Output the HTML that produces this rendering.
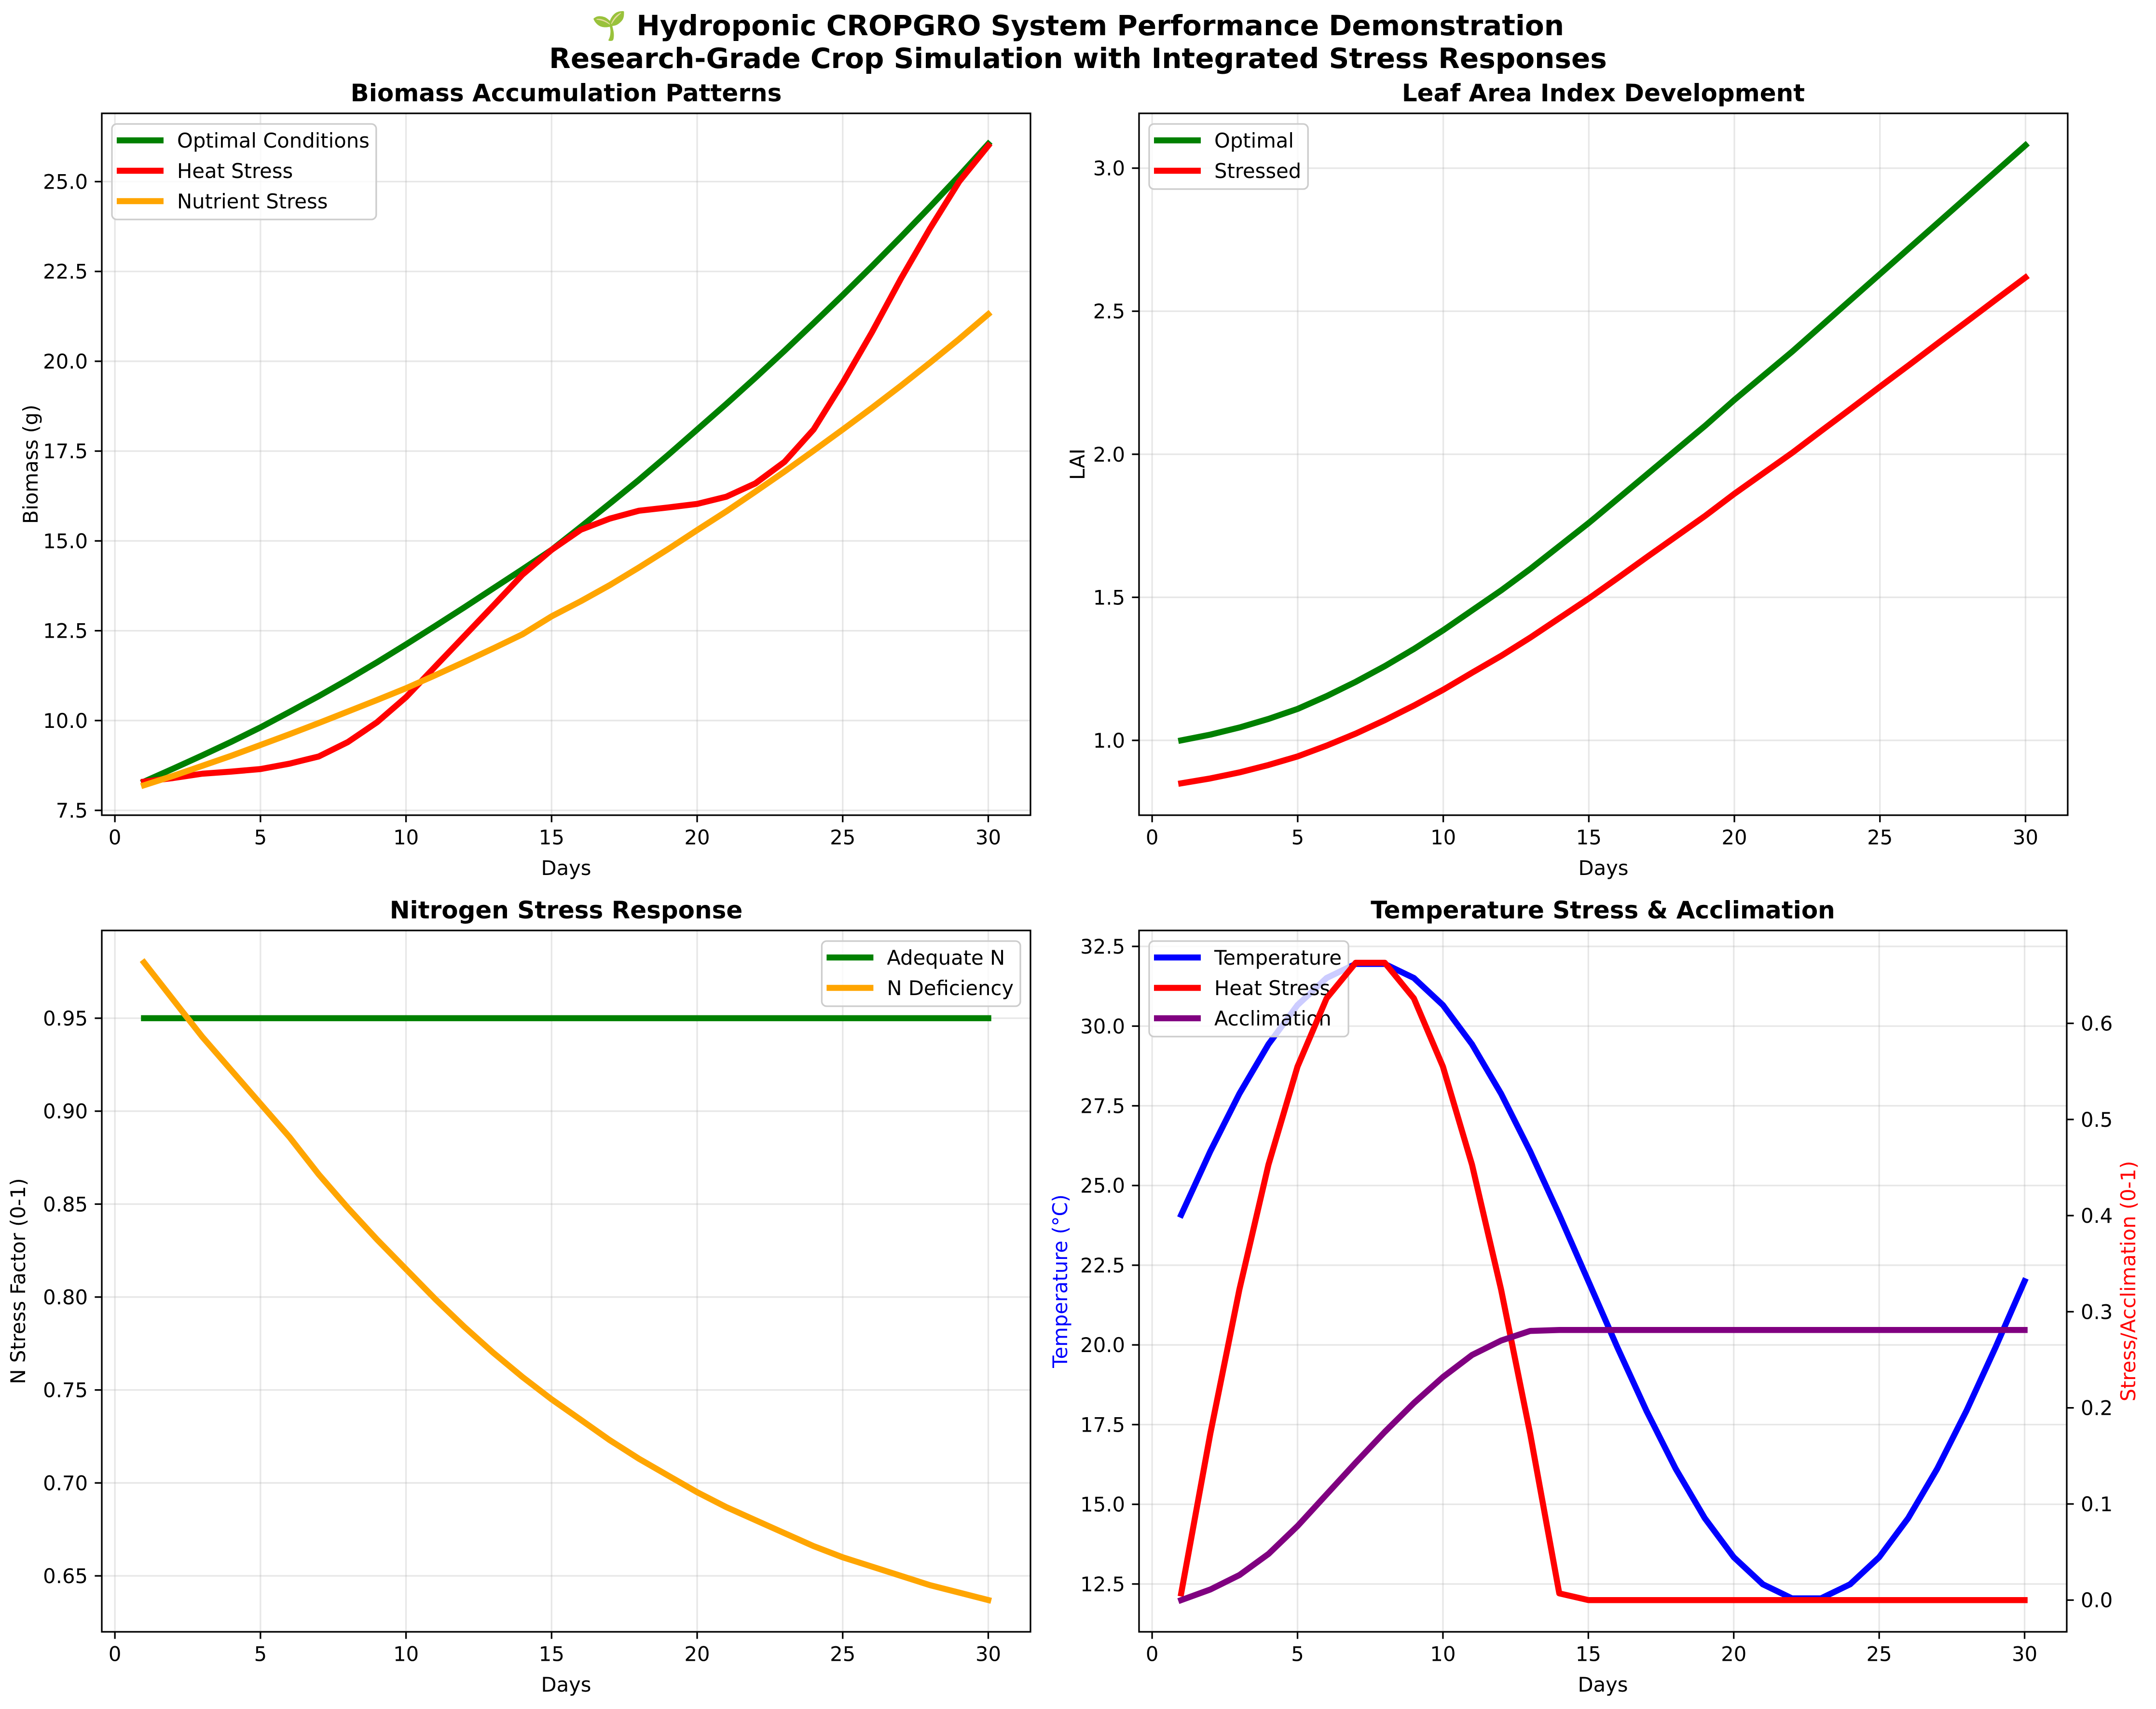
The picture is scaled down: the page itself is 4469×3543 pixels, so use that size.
<!DOCTYPE html>
<html><head><meta charset="utf-8">
<style>
html,body{margin:0;padding:0;background:#fff;}
svg{display:block;font-family:"DejaVu Sans","Liberation Sans",sans-serif;}
</style></head>
<body>
<svg id="fig" width="4469" height="3543" viewBox="0 0 4469 3543" xmlns="http://www.w3.org/2000/svg">
<rect width="4469" height="3543" fill="#fff"/>
<text x="2234.5" y="73" font-size="58" font-weight="bold" text-anchor="middle">🌱 Hydroponic CROPGRO System Performance Demonstration</text>
<text x="2234.5" y="141" font-size="58" font-weight="bold" text-anchor="middle">Research-Grade Crop Simulation with Integrated Stress Responses</text>
</svg>
<script>
// ---- data ----
const days = [1,2,3,4,5,6,7,8,9,10,11,12,13,14,15,16,17,18,19,20,21,22,23,24,25,26,27,28,29,30];
const biomassOptimal = [8.30,8.66,9.03,9.41,9.81,10.24,10.68,11.14,11.62,12.12,12.63,13.15,13.68,14.21,14.75,15.39,16.04,16.70,17.39,18.10,18.81,19.54,20.29,21.06,21.84,22.64,23.46,24.30,25.16,26.05];
const biomassHeat = [8.30,8.40,8.52,8.58,8.65,8.80,9.00,9.40,9.95,10.65,11.50,12.35,13.20,14.06,14.75,15.31,15.62,15.84,15.93,16.03,16.23,16.60,17.20,18.10,19.40,20.80,22.30,23.70,25.00,26.00];
const biomassNutrient = [8.20,8.46,8.74,9.02,9.32,9.62,9.93,10.25,10.57,10.90,11.26,11.63,12.01,12.40,12.90,13.32,13.77,14.26,14.77,15.30,15.82,16.37,16.93,17.51,18.10,18.70,19.32,19.96,20.62,21.31];
const laiOptimal = [1.00,1.02,1.045,1.075,1.11,1.155,1.205,1.26,1.32,1.385,1.455,1.525,1.60,1.68,1.76,1.845,1.93,2.015,2.10,2.19,2.275,2.36,2.45,2.54,2.63,2.72,2.81,2.90,2.99,3.08];
const laiStressed = [0.85,0.867,0.888,0.914,0.944,0.982,1.024,1.071,1.122,1.177,1.237,1.296,1.36,1.428,1.496,1.568,1.641,1.713,1.785,1.862,1.934,2.006,2.083,2.159,2.236,2.312,2.389,2.465,2.542,2.618];
const nAdequate = [0.95,0.95,0.95,0.95,0.95,0.95,0.95,0.95,0.95,0.95,0.95,0.95,0.95,0.95,0.95,0.95,0.95,0.95,0.95,0.95,0.95,0.95,0.95,0.95,0.95,0.95,0.95,0.95,0.95,0.95];
const nDeficiency = [0.98,0.96,0.94,0.922,0.904,0.886,0.866,0.848,0.831,0.815,0.799,0.784,0.770,0.757,0.745,0.734,0.723,0.713,0.704,0.695,0.687,0.680,0.673,0.666,0.660,0.655,0.650,0.645,0.641,0.637];
const temperature = [24.08,26.07,27.88,29.43,30.66,31.51,31.95,31.95,31.51,30.66,29.43,27.88,26.07,24.08,22.00,19.92,17.93,16.12,14.57,13.34,12.49,12.05,12.05,12.49,13.34,14.57,16.12,17.93,19.92,22.00];
const heatStress = [0.007,0.173,0.323,0.453,0.555,0.626,0.663,0.663,0.626,0.555,0.453,0.323,0.173,0.007,0,0,0,0,0,0,0,0,0,0,0,0,0,0,0,0];
const acclimation = [0.000,0.011,0.026,0.048,0.077,0.110,0.143,0.175,0.205,0.232,0.255,0.270,0.280,0.281,0.281,0.281,0.281,0.281,0.281,0.281,0.281,0.281,0.281,0.281,0.281,0.281,0.281,0.281,0.281,0.281];
const xTicks = [0,5,10,15,20,25,30];
const biomassTicks = [7.5,10.0,12.5,15.0,17.5,20.0,22.5,25.0];
const laiTicks = [1.0,1.5,2.0,2.5,3.0];
const nTicks = [0.65,0.70,0.75,0.80,0.85,0.90,0.95];
const tempTicks = [12.5,15.0,17.5,20.0,22.5,25.0,27.5,30.0,32.5];
const stressTicks = [0.0,0.1,0.2,0.3,0.4,0.5,0.6];

const NS = "http://www.w3.org/2000/svg";
const svg = document.getElementById('fig');
function el(tag, attrs, parent){
  const e = document.createElementNS(NS, tag);
  for (const k in attrs) e.setAttribute(k, attrs[k]);
  (parent||svg).appendChild(e);
  return e;
}
function lin(d0,d1,r0,r1){ return v => r0 + (v-d0)/(d1-d0)*(r1-r0); }
const XMIN=-0.45, XMAX=31.45;
const FS=41.7;

function makeAxes(name, L, R, T, B, ylim, yTicks, yDec, title, ylabel, ylabelX, ylabelColor){
  const g = el('g',{});
  
  
  const x = lin(XMIN, XMAX, L, R);
  const y = lin(ylim[0], ylim[1], B, T);
  xTicks.forEach(t=>{
    const gl = el('line',{x1:x(t),x2:x(t),y1:T,y2:B,stroke:'#b0b0b0','stroke-opacity':0.3,'stroke-width':3.3},g);
    
    
  });
  yTicks.forEach(t=>{
    const gl = el('line',{x1:L,x2:R,y1:y(t),y2:y(t),stroke:'#b0b0b0','stroke-opacity':0.3,'stroke-width':3.3},g);
    
    
  });
  xTicks.forEach(t=>{
    el('line',{x1:x(t),x2:x(t),y1:B,y2:B+14.6,stroke:'#000','stroke-width':3.3},g);
    const tl = el('text',{x:x(t),y:B+29+FS*0.76,'font-size':FS,'text-anchor':'middle'},g);
    tl.textContent = String(t);
    
    
  });
  yTicks.forEach(t=>{
    el('line',{x1:L-14.6,x2:L,y1:y(t),y2:y(t),stroke:'#000','stroke-width':3.3},g);
    const tl = el('text',{x:L-29,y:y(t)+FS*0.36,'font-size':FS,'text-anchor':'end'},g);
    tl.textContent = t.toFixed(yDec);
    
    
  });
  const tt = el('text',{x:(L+R)/2,y:T-25,'font-size':50,'font-weight':'bold','text-anchor':'middle'},g);
  tt.textContent = title;
  
  
  const xl = el('text',{x:(L+R)/2,y:B+124,'font-size':FS,'text-anchor':'middle'},g);
  xl.textContent = 'Days';
  
  
  const yl = el('text',{x:0,y:0,'font-size':FS,'text-anchor':'middle',fill:ylabelColor||'#000',transform:`translate(${ylabelX},${(T+B)/2}) rotate(-90)`},g);
  yl.textContent = ylabel;
  
  
  return {g,x,y,L,R,T,B};
}
function drawLine(ax, ys, color, name, yfn){
  const yf = yfn || ax.y;
  const pts = days.map((d,i)=>ax.x(d).toFixed(1)+','+yf(ys[i]).toFixed(1)).join(' ');
  const p = el('polyline',{points:pts,fill:'none',stroke:color,'stroke-width':12.5,'stroke-linejoin':'round','stroke-linecap':'square'});
  
  
  return p;
}
function frame(ax){
  const f = el('rect',{x:ax.L,y:ax.T,width:ax.R-ax.L,height:ax.B-ax.T,fill:'none',stroke:'#000','stroke-width':3.3});
  
  
}
function legend(ax, entries, where, name){
  const g = el('g',{});
  
  
  const box = el('rect',{rx:10,ry:10,fill:'#fff','fill-opacity':0.8,stroke:'#cccccc','stroke-width':3.3},g);
  let maxW = 0;
  const items = [];
  entries.forEach((e,i)=>{
    const t = el('text',{'font-size':FS},g);
    t.textContent = e[0];
    
    
    maxW = Math.max(maxW, t.getComputedTextLength());
    items.push(t);
  });
  const w = 135 + maxW + 14;
  const h = 34 + 63*(entries.length-1) + 38;
  const bx = where==='right' ? ax.R - 21 - w : ax.L + 21;
  const by = ax.T + 22;
  box.setAttribute('x',bx); box.setAttribute('y',by);
  box.setAttribute('width',w); box.setAttribute('height',h);
  entries.forEach((e,i)=>{
    const cy = by + 34 + 63*i;
    const hl = el('line',{x1:bx+10,x2:bx+107,y1:cy,y2:cy,stroke:e[1],'stroke-width':12.5},g);
    
    
    items[i].setAttribute('x', bx+135);
    items[i].setAttribute('y', cy+FS*0.36);
  });
}

const a1 = makeAxes('biomass-panel',211,2136,235,1690,[7.366,26.90],biomassTicks,1,'Biomass Accumulation Patterns','Biomass (g)',78);
drawLine(a1, biomassOptimal, '#008000', 'optimal-biomass-line');
drawLine(a1, biomassHeat, '#ff0000', 'heat-stress-biomass-line');
drawLine(a1, biomassNutrient, '#ffa500', 'nutrient-stress-biomass-line');
frame(a1);
legend(a1, [['Optimal Conditions','#008000'],['Heat Stress','#ff0000'],['Nutrient Stress','#ffa500']], 'left', 'biomass-legend');

const a2 = makeAxes('lai-panel',2361,4286,235,1690,[0.7385,3.1915],laiTicks,1,'Leaf Area Index Development','LAI',2248);
drawLine(a2, laiOptimal, '#008000', 'optimal-lai-line');
drawLine(a2, laiStressed, '#ff0000', 'stressed-lai-line');
frame(a2);
legend(a2, [['Optimal','#008000'],['Stressed','#ff0000']], 'left', 'lai-legend');

const a3 = makeAxes('nitrogen-panel',211,2136,1929,3383,[0.6199,0.9972],nTicks,2,'Nitrogen Stress Response','N Stress Factor (0-1)',52);
drawLine(a3, nAdequate, '#008000', 'adequate-n-line');
drawLine(a3, nDeficiency, '#ffa500', 'n-deficiency-line');
frame(a3);
legend(a3, [['Adequate N','#008000'],['N Deficiency','#ffa500']], 'right', 'nitrogen-legend');

const a4 = makeAxes('temperature-panel',2361,4284,1929,3383,[11,33],tempTicks,1,'Temperature Stress & Acclimation','Temperature (°C)',2212,'#0000ff');
const y4r = lin(-0.033, 0.6966, 3383, 1929);
drawLine(a4, temperature, '#0000ff', 'temperature-line');
legend(a4, [['Temperature','#0000ff'],['Heat Stress','#ff0000'],['Acclimation','#800080']], 'left', 'temperature-legend');
drawLine(a4, heatStress, '#ff0000', 'heat-stress-line', y4r);
drawLine(a4, acclimation, '#800080', 'acclimation-line', y4r);
stressTicks.forEach(t=>{
  el('line',{x1:4284,x2:4284+14.6,y1:y4r(t),y2:y4r(t),stroke:'#000','stroke-width':3.3});
  const tl = el('text',{x:4284+29,y:y4r(t)+FS*0.36,'font-size':FS});
  tl.textContent = t.toFixed(1);
  
  
});
const ry = el('text',{x:0,y:0,'font-size':FS,'text-anchor':'middle',fill:'#ff0000',transform:`translate(4426,2656) rotate(-90)`});
ry.textContent = 'Stress/Acclimation (0-1)';


frame(a4);
</script>
</body></html>
